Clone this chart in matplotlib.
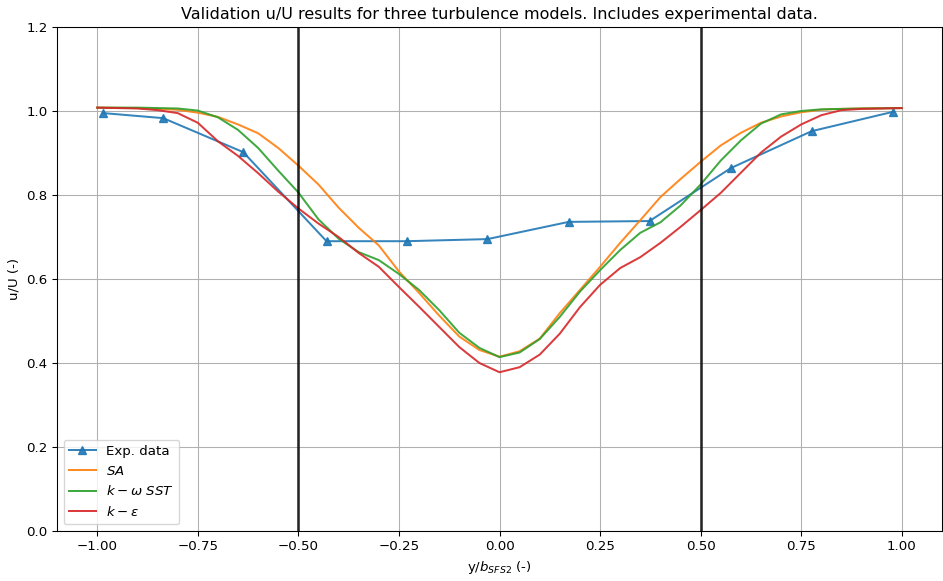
import matplotlib
matplotlib.use('Agg')
import matplotlib.pyplot as plt
import numpy as np

# experimental points
exp_x = [-0.985, -0.836, -0.637, -0.430, -0.231, -0.030, 0.172, 0.373, 0.575, 0.776, 0.978]
exp_u = [0.995, 0.983, 0.902, 0.690, 0.690, 0.695, 0.736, 0.738, 0.864, 0.952, 0.998]

# model results, common y grid
y_grid = [-1.0, -0.9, -0.85, -0.8, -0.75, -0.7, -0.65, -0.6, -0.55, -0.5, -0.45, -0.4, -0.35,
          -0.3, -0.25, -0.2, -0.15, -0.1, -0.05, 0.0, 0.05, 0.1, 0.15, 0.2, 0.25, 0.3,
          0.35, 0.4, 0.45, 0.5, 0.55, 0.6, 0.65, 0.7, 0.75, 0.8, 0.85, 0.9, 1.0]
u_sa = [1.008, 1.007, 1.005, 1.003, 0.996, 0.986, 0.968, 0.947, 0.912, 0.870, 0.825, 0.770, 0.722,
        0.680, 0.618, 0.567, 0.513, 0.463, 0.431, 0.415, 0.428, 0.458, 0.519, 0.574, 0.629, 0.686,
        0.740, 0.795, 0.838, 0.879, 0.918, 0.948, 0.972, 0.987, 0.997, 1.003, 1.005, 1.006, 1.007]
u_sst = [1.008, 1.008, 1.007, 1.006, 1.001, 0.985, 0.955, 0.912, 0.858, 0.806, 0.742, 0.696, 0.664,
         0.645, 0.612, 0.574, 0.526, 0.472, 0.436, 0.414, 0.425, 0.457, 0.510, 0.570, 0.621, 0.669,
         0.710, 0.735, 0.775, 0.825, 0.882, 0.930, 0.970, 0.992, 1.000, 1.004, 1.005, 1.006, 1.007]
u_ke = [1.008, 1.006, 1.002, 0.995, 0.972, 0.928, 0.893, 0.852, 0.808, 0.768, 0.732, 0.700, 0.662,
        0.629, 0.581, 0.534, 0.486, 0.438, 0.400, 0.378, 0.390, 0.420, 0.470, 0.533, 0.586, 0.626,
        0.652, 0.686, 0.724, 0.764, 0.805, 0.853, 0.901, 0.939, 0.968, 0.990, 1.002, 1.005, 1.007]

DPI = 96
fig = plt.figure(figsize=(943 / DPI, 581 / DPI), dpi=DPI)
ax = fig.add_axes([57 / 943, 1 - 531 / 581, 885 / 943, 504 / 581])

ax.plot(exp_x, exp_u, marker='^', color='C0', alpha=0.9, label='Exp. data')
ax.plot(y_grid, u_sa, color='C1', alpha=0.9, label='$SA$')
ax.plot(y_grid, u_sst, color='C2', alpha=0.9, label=r'$k-\omega\ SST$')
ax.plot(y_grid, u_ke, color='C3', alpha=0.9, label=r'$k-\varepsilon$')
ax.axvline(-0.5, color='k', lw=2, alpha=0.8)
ax.axvline(0.5, color='k', lw=2, alpha=0.8)

ax.set_xlim(-1.1, 1.1)
ax.set_ylim(0, 1.2)
ax.grid(True)
ax.set_title('Validation u/U results for three turbulence models. Includes experimental data.')
ax.set_xlabel('y/$b_{SFS2}$ (-)')
ax.set_ylabel('u/U (-)')
ax.legend(loc='lower left')

fig.savefig('out.png', dpi=DPI)
